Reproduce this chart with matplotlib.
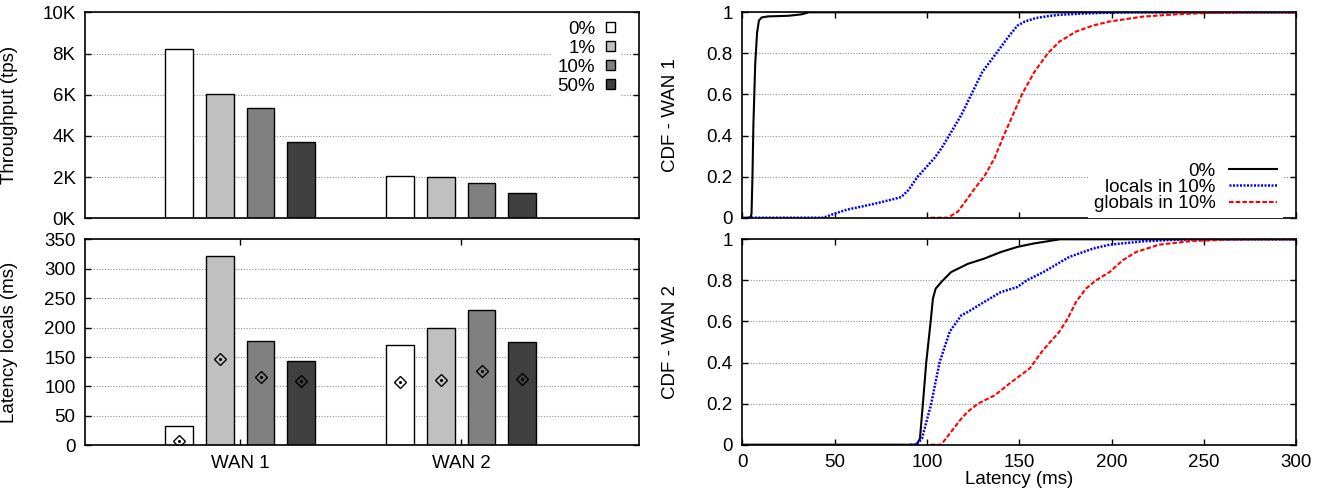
import matplotlib
matplotlib.use("Agg")
import matplotlib.pyplot as plt
from matplotlib.patches import Patch
import numpy as np

plt.rcParams["font.family"] = ["Liberation Sans", "DejaVu Sans"]
plt.rcParams["font.size"] = 13.5

# ---- data ----
groups = ["WAN 1", "WAN 2"]
series = ["0%", "1%", "10%", "50%"]
bar_colors = ["#ffffff", "#c0c0c0", "#808080", "#404040"]

throughput = {  # tps
    "0%": [8240, 2070],
    "1%": [6050, 2000],
    "10%": [5340, 1730],
    "50%": [3690, 1210],
}
latency_locals = {  # ms (bar)
    "0%": [33, 171],
    "1%": [322, 199],
    "10%": [178, 230],
    "50%": [144, 175],
}
latency_median = {  # ms (diamond)
    "0%": [8, 107],
    "1%": [147, 111.5],
    "10%": [116, 126.5],
    "50%": [110, 113],
}

# CDF points, WAN 1
w1_zero_x = [0, 4.5, 5.0, 5.5, 6.0, 7.0, 8.0, 9.0, 10.5, 14, 25, 32, 36, 300]
w1_zero_y = [0, 0, 0.02, 0.2, 0.45, 0.75, 0.9, 0.96, 0.975, 0.98, 0.983, 0.99, 1.0, 1.0]
w1_loc_x = [3, 44, 50, 57, 64.5, 75, 86, 90, 95, 100, 104, 108, 112, 118.6, 124, 130,
            137.5, 144, 149, 153, 159, 166, 172, 185, 199, 210, 300]
w1_loc_y = [0, 0, 0.02, 0.04, 0.054, 0.075, 0.1, 0.135, 0.2, 0.25, 0.29, 0.34, 0.4, 0.5,
            0.6, 0.71, 0.8, 0.88, 0.935, 0.955, 0.972, 0.982, 0.988, 0.994, 0.998, 1.0, 1.0]
w1_glob_x = [102, 111.4, 116.8, 122, 126.5, 131, 136.6, 141.6, 146.5, 151.4, 158.2, 165.4,
             171.7, 180.7, 189.7, 198.8, 216.8, 234.8, 252.9, 275, 300]
w1_glob_y = [0, 0, 0.03, 0.094, 0.15, 0.2, 0.29, 0.4, 0.5, 0.6, 0.71, 0.8, 0.857, 0.906,
             0.935, 0.955, 0.979, 0.99, 0.997, 1.0, 1.0]

# CDF points, WAN 2
w2_zero_x = [0, 94, 95, 96.2, 97.8, 99.6, 102, 103.2, 104.7, 108.6, 113, 122, 131, 140,
             149, 158, 163, 172, 300]
w2_zero_y = [0, 0, 0.01, 0.03, 0.2, 0.4, 0.6, 0.71, 0.76, 0.8, 0.84, 0.88, 0.906, 0.938,
             0.963, 0.98, 0.987, 1.0, 1.0]
w2_loc_x = [91, 94.2, 97.3, 102.3, 106.8, 112.3, 118.6, 122, 131, 140, 149, 154, 163, 177,
            190, 199, 217, 235, 250, 300]
w2_loc_y = [0, 0, 0.03, 0.2, 0.4, 0.55, 0.63, 0.646, 0.695, 0.743, 0.768, 0.8, 0.84, 0.914,
            0.955, 0.974, 0.99, 0.998, 1.0, 1.0]
w2_glob_x = [102, 107.7, 113, 118.6, 122, 127.6, 136.6, 145, 155.5, 162.8, 171.7, 176.2,
             180.7, 186.1, 191.5, 198.8, 206, 213.2, 225.8, 243.9, 270.9, 300]
w2_glob_y = [0, 0, 0.062, 0.127, 0.16, 0.2, 0.24, 0.3, 0.37, 0.46, 0.55, 0.614, 0.695,
             0.76, 0.8, 0.84, 0.898, 0.938, 0.974, 0.992, 1.0, 1.0]

cdf_labels = ["0%", "locals in 10%", "globals in 10%"]

# ---- figure ----
fig = plt.figure(figsize=(13.26, 4.92), dpi=100)
W, H = 1326, 492


def px_axes(x0, x1, y0, y1):
    return fig.add_axes([x0 / W, (H - y1) / H, (x1 - x0) / W, (y1 - y0) / H])


ax_tp = px_axes(85.3, 639.3, 12.3, 218.3)
ax_lat = px_axes(85.3, 639.3, 239.3, 445.3)
ax_c1 = px_axes(742.3, 1296.3, 12.3, 217.7)
ax_c2 = px_axes(742.3, 1296.3, 239.3, 444.7)

grid_kw = dict(color="#909090", linestyle=(0, (1, 1.5)), linewidth=0.8)

for ax in (ax_tp, ax_lat, ax_c1, ax_c2):
    ax.set_axisbelow(True)
    ax.yaxis.grid(True, **grid_kw)
    ax.tick_params(direction="in", length=4.5, width=1, top=True, right=True, pad=7)
    for s in ax.spines.values():
        s.set_linewidth(1.2)

x = np.arange(len(groups))
bw = 0.125
pitch = 0.184

for i, s in enumerate(series):
    off = (i - 1.5) * pitch
    ax_tp.bar(x + off, throughput[s], width=bw, color=bar_colors[i],
              edgecolor="black", linewidth=1, label=s)
    ax_lat.bar(x + off, latency_locals[s], width=bw, color=bar_colors[i],
               edgecolor="black", linewidth=1)
    ax_lat.plot(x + off, latency_median[s], linestyle="none", marker="D",
                markersize=6.5, markerfacecolor="none", markeredgecolor="black",
                markeredgewidth=1)
    ax_lat.plot(x + off, latency_median[s], linestyle="none", marker="o",
                markersize=1.2, color="black")

for ax in (ax_tp, ax_lat):
    ax.set_xlim(-0.701, 1.806)
    ax.set_xticks(x)

ax_tp.set_ylim(0, 10000)
ax_tp.set_yticks(np.arange(0, 10001, 2000))
ax_tp.set_yticklabels([f"{v // 1000}K" for v in range(0, 10001, 2000)])
ax_tp.set_xticklabels([])
ax_tp.tick_params(axis="x", length=0)
ax_tp.set_ylabel("Throughput (tps)")

ax_lat.set_ylim(0, 350)
ax_lat.set_yticks(np.arange(0, 351, 50))
ax_lat.set_xticklabels(groups)
ax_lat.set_ylabel("Latency locals (ms)")

ax_tp.yaxis.set_label_coords(-0.122, 0.5)
ax_lat.yaxis.set_label_coords(-0.122, 0.5)

handles = [Patch(facecolor=c, edgecolor="black", linewidth=1) for c in bar_colors]
ax_tp.legend(handles, series, loc="upper right", bbox_to_anchor=(0.966, 0.985),
             frameon=True, framealpha=1, facecolor="white", edgecolor="none",
             fancybox=False, markerfirst=False, handlelength=0.45, handleheight=0.45,
             handletextpad=0.6, labelspacing=0.1, borderpad=0.3, borderaxespad=0)

# CDF plots
styles = [
    dict(color="black", linewidth=1.5, linestyle="-"),
    dict(color="blue", linewidth=1.8, linestyle=(0, (0.8, 0.6))),
    dict(color="red", linewidth=1.5, linestyle=(0, (2.2, 1.0))),
]
for ax, curves, name in (
    (ax_c1, [(w1_zero_x, w1_zero_y), (w1_loc_x, w1_loc_y), (w1_glob_x, w1_glob_y)], "CDF - WAN 1"),
    (ax_c2, [(w2_zero_x, w2_zero_y), (w2_loc_x, w2_loc_y), (w2_glob_x, w2_glob_y)], "CDF - WAN 2"),
):
    for (cx, cy), st, lab in zip(curves, styles, cdf_labels):
        ax.plot(cx, cy, label=lab, **st)
    ax.set_xlim(0, 300)
    ax.set_ylim(0, 1)
    ax.set_xticks(np.arange(0, 301, 50))
    ax.set_yticks([0, 0.2, 0.4, 0.6, 0.8, 1.0])
    ax.set_yticklabels(["0", "0.2", "0.4", "0.6", "0.8", "1"])
    ax.set_ylabel(name)
    ax.yaxis.set_label_coords(-0.114, 0.5)

ax_c1.set_xticklabels([])
ax_c2.set_xlabel("Latency (ms)", labelpad=0)

ax_c1.legend(loc="lower right", bbox_to_anchor=(0.976, 0.0), frameon=True,
             framealpha=1, facecolor="white", edgecolor="none", fancybox=False,
             markerfirst=False, handlelength=2.6, handletextpad=0.7,
             labelspacing=-0.05, borderpad=0.3, borderaxespad=0)

fig.savefig("out.png", dpi=100)
